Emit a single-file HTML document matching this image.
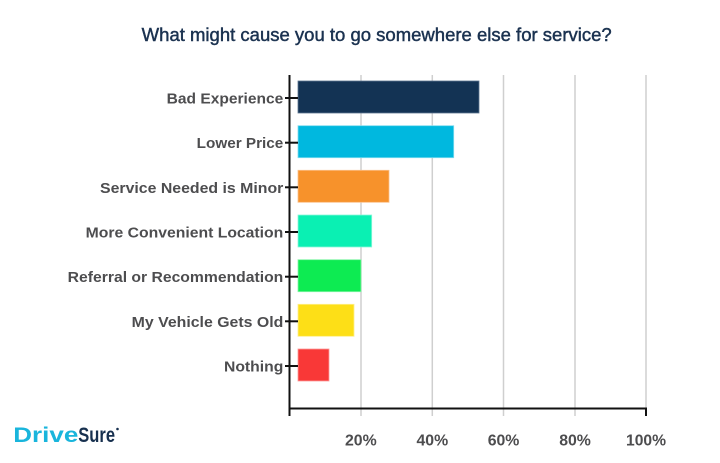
<!DOCTYPE html>
<html><head><meta charset="utf-8"><style>
html,body{margin:0;padding:0;background:#fff;}
svg{display:block;}
text{font-family:"Liberation Sans",Arial,sans-serif;}
</style></head><body>
<svg width="720" height="463" viewBox="0 0 720 463" xmlns="http://www.w3.org/2000/svg">
<rect width="720" height="463" fill="#fff"/>
<text x="141.7" y="41" font-size="18" fill="#1b3250" stroke="#1b3250" stroke-width="0.45" textLength="470" lengthAdjust="spacingAndGlyphs">What might cause you to go somewhere else for service?</text>

<!-- gridlines -->
<g stroke="#cfcfcf" stroke-width="1.5">
<line x1="361" y1="75" x2="361" y2="416"/>
<line x1="432.3" y1="75" x2="432.3" y2="416"/>
<line x1="503.5" y1="75" x2="503.5" y2="416"/>
<line x1="575" y1="75" x2="575" y2="416"/>
<line x1="646" y1="75" x2="646" y2="408"/>
</g>

<!-- bars -->
<g stroke-width="0.8">
<rect x="298" y="81" width="181" height="32" fill="#133354" stroke="#5d7590"/>
<rect x="298" y="125.7" width="155.7" height="32" fill="#00b8df" stroke="#7fdcef"/>
<rect x="298" y="170.3" width="91" height="32" fill="#f7922b" stroke="#fbc08a"/>
<rect x="298" y="215" width="73.7" height="32" fill="#0af0b3" stroke="#8af7da"/>
<rect x="298" y="259.7" width="63" height="32" fill="#0deb52" stroke="#86f5a8"/>
<rect x="298" y="304.3" width="56" height="32" fill="#fddf17" stroke="#feef8b"/>
<rect x="298" y="349" width="31" height="32" fill="#f93837" stroke="#fc9b9b"/>
</g>

<!-- axes -->
<g stroke="#111" stroke-width="2">
<line x1="289.5" y1="75" x2="289.5" y2="416"/>
<line x1="289" y1="408.5" x2="647" y2="408.5"/>
<line x1="646" y1="408" x2="646" y2="416"/>
</g>
<g stroke="#111" stroke-width="2">
<line x1="285" y1="98" x2="298" y2="98"/>
<line x1="285" y1="142.7" x2="298" y2="142.7"/>
<line x1="285" y1="187.3" x2="298" y2="187.3"/>
<line x1="285" y1="232" x2="298" y2="232"/>
<line x1="285" y1="276.7" x2="298" y2="276.7"/>
<line x1="285" y1="321.3" x2="298" y2="321.3"/>
<line x1="285" y1="366" x2="298" y2="366"/>
</g>

<!-- category labels -->
<g font-size="14.5" font-weight="bold" fill="#4d4d4f">
<text x="166.7" y="103.5" textLength="116.6" lengthAdjust="spacingAndGlyphs">Bad Experience</text>
<text x="196.7" y="148.2" textLength="86.6" lengthAdjust="spacingAndGlyphs">Lower Price</text>
<text x="100" y="192.8" textLength="183.3" lengthAdjust="spacingAndGlyphs">Service Needed is Minor</text>
<text x="85.7" y="237.5" textLength="197.6" lengthAdjust="spacingAndGlyphs">More Convenient Location</text>
<text x="67.7" y="282.2" textLength="215.6" lengthAdjust="spacingAndGlyphs">Referral or Recommendation</text>
<text x="131.7" y="326.8" textLength="151.6" lengthAdjust="spacingAndGlyphs">My Vehicle Gets Old</text>
<text x="224" y="371.5" textLength="59.3" lengthAdjust="spacingAndGlyphs">Nothing</text>
</g>

<!-- x tick labels -->
<g font-size="16" font-weight="bold" fill="#4d4d4f">
<text x="345" y="445.7" textLength="31.7" lengthAdjust="spacingAndGlyphs">20%</text>
<text x="416.5" y="445.7" textLength="31.7" lengthAdjust="spacingAndGlyphs">40%</text>
<text x="487.7" y="445.7" textLength="31.7" lengthAdjust="spacingAndGlyphs">60%</text>
<text x="559.2" y="445.7" textLength="31.7" lengthAdjust="spacingAndGlyphs">80%</text>
<text x="626" y="445.7" textLength="40" lengthAdjust="spacingAndGlyphs">100%</text>
</g>

<!-- logo -->
<g font-size="21" font-weight="bold">
<text x="13.3" y="442" fill="#19b5dc" textLength="65" lengthAdjust="spacingAndGlyphs">Drive</text>
<text x="78.3" y="442" fill="#17304f" textLength="36.7" lengthAdjust="spacingAndGlyphs">Sure</text>
<circle cx="117.5" cy="429" r="1.3" fill="#17304f"/>
</g>
</svg>
</body></html>
